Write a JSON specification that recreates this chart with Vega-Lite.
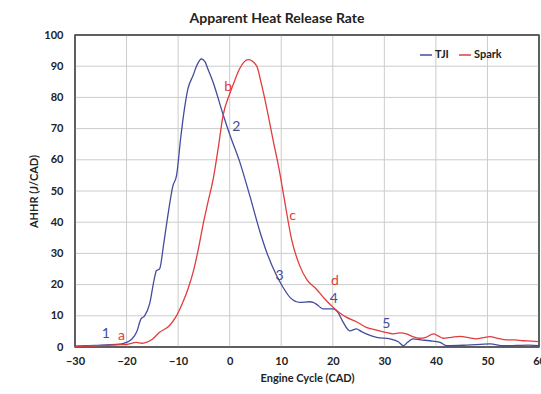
{
  "$schema": "https://vega.github.io/schema/vega-lite/v6.json",
  "width": 464,
  "height": 312,
  "padding": {"left": 28, "top": 12, "right": 2, "bottom": 5},
  "background": "white",
  "title": {"text": "Apparent Heat Release Rate", "fontSize": 14, "font": "Lato", "fontWeight": "bold", "color": "#222222", "offset": 3, "dx": -30},
  "config": {
    "view": {"stroke": "#555555", "strokeWidth": 1.5},
    "axis": {"labelFont": "Lato", "titleFont": "Lato", "labelFontWeight": "bold", "titleFontWeight": "bold", "labelColor": "#222222", "titleColor": "#222222", "labelFontSize": 11, "titleFontSize": 11}
  },
  "layer": [
    {
      "data": {"values": [{"cad": -20}, {"cad": -10}, {"cad": 0}, {"cad": 10}, {"cad": 20}, {"cad": 30}, {"cad": 40}, {"cad": 50}]},
      "mark": {"type": "rule", "color": "#cccccc", "strokeWidth": 1},
      "encoding": {
        "x": {"field": "cad", "type": "quantitative", "scale": {"domain": [-30, 60], "nice": false}, "axis": {"title": "Engine Cycle (CAD)", "values": [-30, -20, -10, 0, 10, 20, 30, 40, 50, 60], "labelPadding": 8, "titlePadding": 6, "ticks": false, "domain": false, "grid": false, "labelOverlap": false, "labelFlush": false}}
      }
    },
    {
      "data": {"values": [{"hrr": 10}, {"hrr": 20}, {"hrr": 30}, {"hrr": 40}, {"hrr": 50}, {"hrr": 60}, {"hrr": 70}, {"hrr": 80}, {"hrr": 90}]},
      "mark": {"type": "rule", "color": "#cccccc", "strokeWidth": 1},
      "encoding": {
        "y": {"field": "hrr", "type": "quantitative", "scale": {"domain": [0, 100], "nice": false}, "axis": {"title": "AHHR (J/CAD)", "values": [0, 10, 20, 30, 40, 50, 60, 70, 80, 90, 100], "labelPadding": 12, "titlePadding": 4, "ticks": false, "domain": false, "grid": false, "labelOverlap": false}}
      }
    },
    {
      "data": {"values": [{"cad": -30}, {"cad": 60}]},
      "mark": {"type": "rule", "color": "#555555", "strokeWidth": 1.5},
      "encoding": {
        "x": {"field": "cad", "type": "quantitative", "scale": {"domain": [-30, 60], "nice": false}, "axis": {"title": "Engine Cycle (CAD)", "values": [-30, -20, -10, 0, 10, 20, 30, 40, 50, 60], "labelPadding": 8, "titlePadding": 6, "ticks": false, "domain": false, "grid": false, "labelOverlap": false, "labelFlush": false}}
      }
    },
    {
      "data": {"values": [{"hrr": 0}, {"hrr": 100}]},
      "mark": {"type": "rule", "color": "#555555", "strokeWidth": 1.5},
      "encoding": {
        "y": {"field": "hrr", "type": "quantitative", "scale": {"domain": [0, 100], "nice": false}, "axis": {"title": "AHHR (J/CAD)", "values": [0, 10, 20, 30, 40, 50, 60, 70, 80, 90, 100], "labelPadding": 12, "titlePadding": 4, "ticks": false, "domain": false, "grid": false, "labelOverlap": false}}
      }
    },
    {
      "data": {"values": [
        {"cad": -30, "hrr": 0.3, "series": "TJI"},
        {"cad": -28, "hrr": 0.4, "series": "TJI"},
        {"cad": -26, "hrr": 0.5, "series": "TJI"},
        {"cad": -24, "hrr": 0.7, "series": "TJI"},
        {"cad": -22, "hrr": 0.8, "series": "TJI"},
        {"cad": -20, "hrr": 1.5, "series": "TJI"},
        {"cad": -19, "hrr": 2.5, "series": "TJI"},
        {"cad": -18, "hrr": 5, "series": "TJI"},
        {"cad": -17.2, "hrr": 9, "series": "TJI"},
        {"cad": -16.5, "hrr": 10, "series": "TJI"},
        {"cad": -15.5, "hrr": 14, "series": "TJI"},
        {"cad": -14.6, "hrr": 22, "series": "TJI"},
        {"cad": -14.2, "hrr": 24.5, "series": "TJI"},
        {"cad": -13.6, "hrr": 25, "series": "TJI"},
        {"cad": -12.8, "hrr": 33, "series": "TJI"},
        {"cad": -12, "hrr": 42, "series": "TJI"},
        {"cad": -11, "hrr": 51.7, "series": "TJI"},
        {"cad": -10.3, "hrr": 55, "series": "TJI"},
        {"cad": -9.5, "hrr": 67, "series": "TJI"},
        {"cad": -8.8, "hrr": 76, "series": "TJI"},
        {"cad": -8.1, "hrr": 82.7, "series": "TJI"},
        {"cad": -7.1, "hrr": 87, "series": "TJI"},
        {"cad": -6.3, "hrr": 90.5, "series": "TJI"},
        {"cad": -5.5, "hrr": 92.3, "series": "TJI"},
        {"cad": -4.8, "hrr": 91.5, "series": "TJI"},
        {"cad": -4.2, "hrr": 89, "series": "TJI"},
        {"cad": -3.2, "hrr": 84.8, "series": "TJI"},
        {"cad": -1.2, "hrr": 74.1, "series": "TJI"},
        {"cad": 0.1, "hrr": 67.7, "series": "TJI"},
        {"cad": 2.0, "hrr": 59.1, "series": "TJI"},
        {"cad": 3.9, "hrr": 48.5, "series": "TJI"},
        {"cad": 5.9, "hrr": 36.8, "series": "TJI"},
        {"cad": 7.2, "hrr": 30.3, "series": "TJI"},
        {"cad": 9.1, "hrr": 22.9, "series": "TJI"},
        {"cad": 10.4, "hrr": 19, "series": "TJI"},
        {"cad": 11.7, "hrr": 15.9, "series": "TJI"},
        {"cad": 13.6, "hrr": 14.3, "series": "TJI"},
        {"cad": 15.5, "hrr": 14.5, "series": "TJI"},
        {"cad": 16.2, "hrr": 14.3, "series": "TJI"},
        {"cad": 17, "hrr": 13.5, "series": "TJI"},
        {"cad": 18.1, "hrr": 12.2, "series": "TJI"},
        {"cad": 20.1, "hrr": 12.2, "series": "TJI"},
        {"cad": 21.0, "hrr": 11.1, "series": "TJI"},
        {"cad": 22, "hrr": 8, "series": "TJI"},
        {"cad": 23.3, "hrr": 5.2, "series": "TJI"},
        {"cad": 24.6, "hrr": 5.8, "series": "TJI"},
        {"cad": 25.5, "hrr": 5, "series": "TJI"},
        {"cad": 26.5, "hrr": 4.2, "series": "TJI"},
        {"cad": 28.5, "hrr": 3.1, "series": "TJI"},
        {"cad": 31.1, "hrr": 2.6, "series": "TJI"},
        {"cad": 32.7, "hrr": 1.7, "series": "TJI"},
        {"cad": 33.7, "hrr": 0.4, "series": "TJI"},
        {"cad": 34.5, "hrr": 1.5, "series": "TJI"},
        {"cad": 35.6, "hrr": 2.6, "series": "TJI"},
        {"cad": 37, "hrr": 2.3, "series": "TJI"},
        {"cad": 38.8, "hrr": 2.0, "series": "TJI"},
        {"cad": 40.8, "hrr": 1.5, "series": "TJI"},
        {"cad": 42.1, "hrr": 0.4, "series": "TJI"},
        {"cad": 46, "hrr": 0.6, "series": "TJI"},
        {"cad": 50.5, "hrr": 1.0, "series": "TJI"},
        {"cad": 53.1, "hrr": 0.4, "series": "TJI"},
        {"cad": 55.7, "hrr": 0.5, "series": "TJI"},
        {"cad": 58, "hrr": 0.6, "series": "TJI"},
        {"cad": 60, "hrr": 0.4, "series": "TJI"},
        {"cad": -30, "hrr": 0.2, "series": "Spark"},
        {"cad": -28, "hrr": 0.3, "series": "Spark"},
        {"cad": -26, "hrr": 0.4, "series": "Spark"},
        {"cad": -24, "hrr": 0.5, "series": "Spark"},
        {"cad": -22, "hrr": 0.7, "series": "Spark"},
        {"cad": -20, "hrr": 0.8, "series": "Spark"},
        {"cad": -18.1, "hrr": 1.5, "series": "Spark"},
        {"cad": -17, "hrr": 1.2, "series": "Spark"},
        {"cad": -16.5, "hrr": 1.3, "series": "Spark"},
        {"cad": -15, "hrr": 2.5, "series": "Spark"},
        {"cad": -13.6, "hrr": 4.7, "series": "Spark"},
        {"cad": -11.7, "hrr": 6.8, "series": "Spark"},
        {"cad": -10.5, "hrr": 9.5, "series": "Spark"},
        {"cad": -9.1, "hrr": 14.3, "series": "Spark"},
        {"cad": -8, "hrr": 19, "series": "Spark"},
        {"cad": -7.1, "hrr": 23.9, "series": "Spark"},
        {"cad": -6, "hrr": 32, "series": "Spark"},
        {"cad": -5.2, "hrr": 38.9, "series": "Spark"},
        {"cad": -4.2, "hrr": 46.5, "series": "Spark"},
        {"cad": -3.2, "hrr": 53.8, "series": "Spark"},
        {"cad": -2.2, "hrr": 64, "series": "Spark"},
        {"cad": -1.3, "hrr": 74.1, "series": "Spark"},
        {"cad": 0, "hrr": 81.1, "series": "Spark"},
        {"cad": 1, "hrr": 85.5, "series": "Spark"},
        {"cad": 1.9, "hrr": 89.1, "series": "Spark"},
        {"cad": 3.6, "hrr": 92.1, "series": "Spark"},
        {"cad": 5.2, "hrr": 90.2, "series": "Spark"},
        {"cad": 6.2, "hrr": 84, "series": "Spark"},
        {"cad": 7.1, "hrr": 77.3, "series": "Spark"},
        {"cad": 8.4, "hrr": 66.5, "series": "Spark"},
        {"cad": 9.7, "hrr": 56, "series": "Spark"},
        {"cad": 10.6, "hrr": 47.4, "series": "Spark"},
        {"cad": 12.0, "hrr": 34.6, "series": "Spark"},
        {"cad": 13.6, "hrr": 26, "series": "Spark"},
        {"cad": 15, "hrr": 21.5, "series": "Spark"},
        {"cad": 16.8, "hrr": 18.6, "series": "Spark"},
        {"cad": 18.5, "hrr": 15.3, "series": "Spark"},
        {"cad": 20.1, "hrr": 12.7, "series": "Spark"},
        {"cad": 21.3, "hrr": 11, "series": "Spark"},
        {"cad": 22.7, "hrr": 9.5, "series": "Spark"},
        {"cad": 24.6, "hrr": 8.1, "series": "Spark"},
        {"cad": 26.5, "hrr": 6.3, "series": "Spark"},
        {"cad": 28.5, "hrr": 5.4, "series": "Spark"},
        {"cad": 30, "hrr": 4.8, "series": "Spark"},
        {"cad": 31.7, "hrr": 4.2, "series": "Spark"},
        {"cad": 33, "hrr": 4.5, "series": "Spark"},
        {"cad": 34.3, "hrr": 4.2, "series": "Spark"},
        {"cad": 35.5, "hrr": 3.3, "series": "Spark"},
        {"cad": 36.9, "hrr": 2.8, "series": "Spark"},
        {"cad": 38.2, "hrr": 3.2, "series": "Spark"},
        {"cad": 39.5, "hrr": 4.2, "series": "Spark"},
        {"cad": 40.5, "hrr": 3.5, "series": "Spark"},
        {"cad": 41.4, "hrr": 2.8, "series": "Spark"},
        {"cad": 43, "hrr": 3.1, "series": "Spark"},
        {"cad": 44.7, "hrr": 3.4, "series": "Spark"},
        {"cad": 46.3, "hrr": 3.0, "series": "Spark"},
        {"cad": 47.9, "hrr": 2.6, "series": "Spark"},
        {"cad": 49.2, "hrr": 3.0, "series": "Spark"},
        {"cad": 50.5, "hrr": 3.3, "series": "Spark"},
        {"cad": 52, "hrr": 2.8, "series": "Spark"},
        {"cad": 53.7, "hrr": 2.3, "series": "Spark"},
        {"cad": 55.3, "hrr": 2.3, "series": "Spark"},
        {"cad": 56.9, "hrr": 2.0, "series": "Spark"},
        {"cad": 58.5, "hrr": 1.9, "series": "Spark"},
        {"cad": 60, "hrr": 1.7, "series": "Spark"}
      ]},
      "mark": {"type": "line", "interpolate": "monotone", "strokeWidth": 1.3},
      "encoding": {
        "x": {"field": "cad", "type": "quantitative", "scale": {"domain": [-30, 60], "nice": false}, "axis": {"title": "Engine Cycle (CAD)", "values": [-30, -20, -10, 0, 10, 20, 30, 40, 50, 60], "labelPadding": 8, "titlePadding": 6, "ticks": false, "domain": false, "grid": false, "labelOverlap": false, "labelFlush": false}},
        "y": {"field": "hrr", "type": "quantitative", "scale": {"domain": [0, 100], "nice": false}, "axis": {"title": "AHHR (J/CAD)", "values": [0, 10, 20, 30, 40, 50, 60, 70, 80, 90, 100], "labelPadding": 12, "titlePadding": 4, "ticks": false, "domain": false, "grid": false, "labelOverlap": false}},
        "color": {"field": "series", "type": "nominal", "scale": {"domain": ["TJI", "Spark"], "range": ["#434d9e", "#e23c3c"]},
          "legend": {"title": null, "orient": "none", "legendX": 344, "legendY": 13, "direction": "horizontal", "symbolType": "stroke", "symbolSize": 144, "symbolStrokeWidth": 1.5, "labelFont": "Lato", "labelFontSize": 11, "labelFontWeight": "bold", "labelColor": "#222222", "labelOffset": 2, "columnPadding": 7}}
      }
    },
    {
      "data": {"values": [
        {"cad": -24, "hrr": 4.2, "label": "1", "series": "TJI"},
        {"cad": -21, "hrr": 3.6, "label": "a", "series": "Spark"},
        {"cad": -0.3, "hrr": 83.2, "label": "b", "series": "Spark"},
        {"cad": 1.3, "hrr": 70.4, "label": "2", "series": "TJI"},
        {"cad": 12.2, "hrr": 42.1, "label": "c", "series": "Spark"},
        {"cad": 9.7, "hrr": 22.9, "label": "3", "series": "TJI"},
        {"cad": 20.4, "hrr": 21.3, "label": "d", "series": "Spark"},
        {"cad": 20.2, "hrr": 15.4, "label": "4", "series": "TJI"},
        {"cad": 30.4, "hrr": 7.4, "label": "5", "series": "TJI"}
      ]},
      "mark": {"type": "text", "font": "Lato", "fontSize": 14},
      "encoding": {
        "x": {"field": "cad", "type": "quantitative", "scale": {"domain": [-30, 60], "nice": false}, "axis": {"title": "Engine Cycle (CAD)", "values": [-30, -20, -10, 0, 10, 20, 30, 40, 50, 60], "labelPadding": 8, "titlePadding": 6, "ticks": false, "domain": false, "grid": false, "labelOverlap": false, "labelFlush": false}},
        "y": {"field": "hrr", "type": "quantitative", "scale": {"domain": [0, 100], "nice": false}, "axis": {"title": "AHHR (J/CAD)", "values": [0, 10, 20, 30, 40, 50, 60, 70, 80, 90, 100], "labelPadding": 12, "titlePadding": 4, "ticks": false, "domain": false, "grid": false, "labelOverlap": false}},
        "text": {"field": "label"},
        "color": {"field": "series", "type": "nominal", "legend": null}
      }
    }
  ]
}
